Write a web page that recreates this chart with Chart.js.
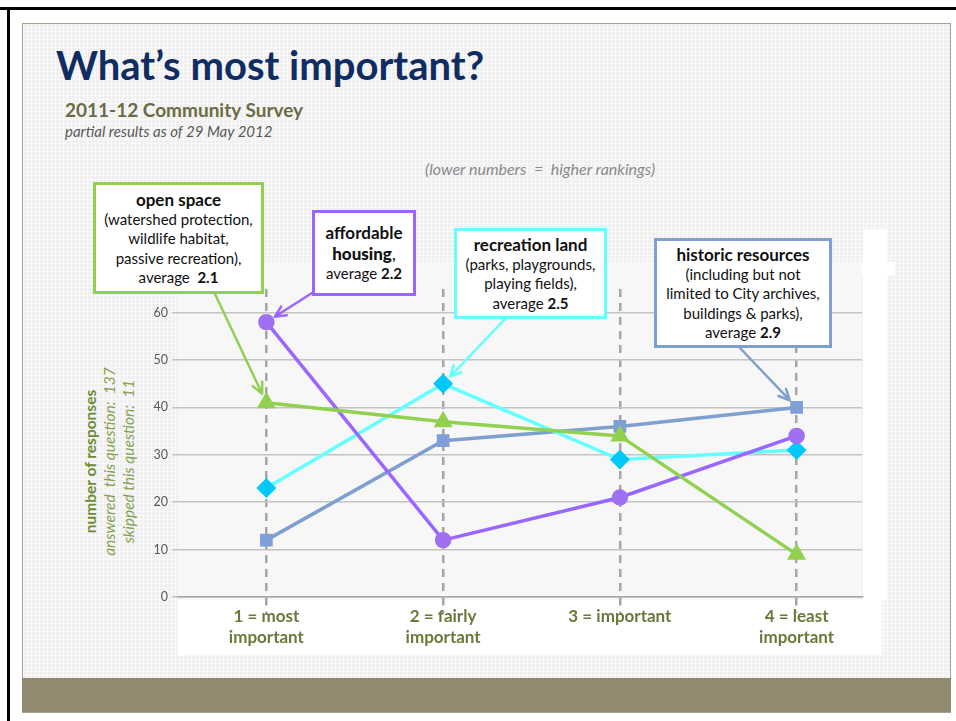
<!DOCTYPE html>
<html>
<head>
<meta charset="utf-8">
<style>
  html, body { margin: 0; padding: 0; }
  body { width: 956px; height: 721px; position: relative; overflow: hidden; background: #fff; font-family: Lato, "Open Sans", sans-serif; }
  .abs { position: absolute; }
  /* slide frame */
  #frameTop { left: 0; top: 7px; width: 956px; height: 3px; background: #000; }
  #frameLeft { left: 7px; top: 7px; width: 3px; height: 714px; background: #000; }
  #slide { left: 22px; top: 23px; width: 927px; height: 688px; border: 1px solid #aaa48c;
    background-color: #f0f0f0;
    background-image:
      repeating-linear-gradient(0deg, rgba(255,255,255,0.55) 0 1px, transparent 1px 4px),
      repeating-linear-gradient(90deg, rgba(255,255,255,0.55) 0 1px, transparent 1px 4px); }
  #footer { left: 22px; top: 678px; width: 929px; height: 34px; background: #918a6e; }
  .white { background: #fff; }
  .plotbg { background: #f7f7f7; }
  #title { left: 56px; top: 40px; font-size: 40px; font-weight: bold; color: #0f2c63; white-space: nowrap; line-height: 50px; }
  #sub { left: 65px; top: 98px; font-size: 19px; font-weight: bold; color: #6c6b44; line-height: 24px; white-space: nowrap; }
  #sub2 { left: 65px; top: 121px; font-size: 15px; font-style: italic; color: #595959; line-height: 20px; white-space: nowrap; }
  #note { left: 425px; top: 159px; font-size: 16px; font-style: italic; color: #8a8a8a; line-height: 20px; white-space: pre; }
  #ytitle { left: -1px; top: 433px; width: 220px; height: 57px; transform: rotate(-90deg); transform-origin: 110px 28.5px;
    text-align: center; font-size: 15.5px; line-height: 19px; color: #76923c; white-space: pre; }
  #ytitle b { color: #6f8a35; }
  #ytitle i { color: #86a150; }
  canvas { position: absolute; left: 0; top: 0; }
  .box { position: absolute; box-sizing: border-box; border: 3px solid; background: #fff; display: flex; flex-direction: column;
    justify-content: center; align-items: center; text-align: center; font-size: 15px; line-height: 19.5px; color: #111; white-space: nowrap; }
  .box .h { font-weight: bold; font-size: 17px; line-height: 21px; }
</style>
</head>
<body>
  <div id="frameTop" class="abs"></div>
  <div id="frameLeft" class="abs"></div>
  <div id="slide" class="abs"></div>
  <div id="footer" class="abs"></div>

  <!-- chart background pieces -->
  <div class="abs plotbg" style="left:178px;top:262px;width:684px;height:338px;"></div>
  <div class="abs white" style="left:178px;top:600px;width:704px;height:55px;"></div>
  <div class="abs white" style="left:863px;top:229px;width:24px;height:371px;"></div>
  <div class="abs white" style="left:862px;top:262px;width:33px;height:13px;"></div>

  <div id="title" class="abs">What’s most important?</div>
  <div id="sub" class="abs">2011-12 Community Survey</div>
  <div id="sub2" class="abs">partial results as of 29 May 2012</div>
  <div id="note" class="abs">(lower numbers  =  higher rankings)</div>
  <div id="ytitle" class="abs"><b>number of responses</b>
<i>answered  this question:  137</i>
<i>skipped this question:  11</i></div>

  <canvas id="myChart" width="956" height="721"></canvas>

  <div class="box" style="left:93px;top:182px;width:171px;height:112px;border-color:#92d050;">
    <span class="h">open space</span>
    <span>(watershed protection,</span>
    <span>wildlife habitat,</span>
    <span>passive recreation),</span>
    <span>average&nbsp; <b>2.1</b></span>
  </div>
  <div class="box" style="left:312px;top:210px;width:104px;height:86px;border-color:#9966ff;">
    <span class="h">affordable</span>
    <span class="h"><b>housing</b><span style="font-weight:normal">,</span></span>
    <span>average <b>2.2</b></span>
  </div>
  <div class="box" style="left:454px;top:228px;width:153px;height:91px;border-color:#66ffff;">
    <span class="h">recreation land</span>
    <span>(parks, playgrounds,</span>
    <span>playing fields),</span>
    <span>average <b>2.5</b></span>
  </div>
  <div class="box" style="left:654px;top:238px;width:178px;height:110px;border-color:#7f9fcf;">
    <span class="h">historic resources</span>
    <span>(including but not</span>
    <span>limited to City archives,</span>
    <span>buildings &amp; parks),</span>
    <span>average <b>2.9</b></span>
  </div>

  <script src="https://cdn.jsdelivr.net/npm/chart.js"></script>
  <script>
    // rank positions on the x axis and their labels
    const ranks = [1, 2, 3, 4];
    const rankLabels = [
      ['1 = most', 'important'],
      ['2 = fairly', 'important'],
      ['3 = important'],
      ['4 = least', 'important']
    ];
    // number of responses per rank
    const openSpace = [41, 37, 34, 9];
    const affordableHousing = [58, 12, 21, 34];
    const recreationLand = [23, 45, 29, 31];
    const historicResources = [12, 33, 36, 40];
    const yTicks = [0, 10, 20, 30, 40, 50, 60];

    const toPoints = vals => vals.map((v, i) => ({ x: ranks[i], y: v }));

    function series(label, vals, line, fill, style, radius) {
      return {
        label: label,
        data: toPoints(vals),
        borderColor: line,
        backgroundColor: fill,
        pointBackgroundColor: fill,
        pointBorderColor: fill,
        pointStyle: style,
        pointRadius: radius,
        borderWidth: 3.5,
        tension: 0
      };
    }

    // arrows from the call-out boxes to a point: [dataset, point index, startX, startY, colour]
    const arrows = [
      [0, 0, 215, 294, '#92d050'],
      [1, 0, 312, 293, '#9966ff'],
      [2, 1, 505, 319, '#66ffff'],
      [3, 3, 740, 348, '#7f9fcf']
    ];

    const arrowPlugin = {
      id: 'calloutArrows',
      afterDatasetsDraw(chart) {
        const ctx = chart.ctx;
        arrows.forEach(([ds, idx, sx, sy, col]) => {
          const pt = chart.getDatasetMeta(ds).data[idx];
          const dx = pt.x - sx, dy = pt.y - sy;
          const len = Math.hypot(dx, dy);
          const ex = pt.x - dx / len * 10, ey = pt.y - dy / len * 10;
          const ang = Math.atan2(dy, dx);
          ctx.save();
          ctx.strokeStyle = col;
          ctx.lineWidth = 2.5;
          ctx.lineCap = 'round';
          ctx.beginPath();
          ctx.moveTo(sx, sy);
          ctx.lineTo(ex, ey);
          for (const s of [-1, 1]) {
            ctx.moveTo(ex, ey);
            ctx.lineTo(ex - 12 * Math.cos(ang + s * 0.45), ey - 12 * Math.sin(ang + s * 0.45));
          }
          ctx.stroke();
          ctx.restore();
        });
      }
    };

    const chartCanvas = document.querySelector('#myChart');
    new Chart(chartCanvas, {
      type: 'line',
      data: {
        datasets: [
          series('open space', openSpace, '#92d050', '#92d050', 'triangle', 7.5),
          series('affordable housing', affordableHousing, '#9966ff', '#a070f0', 'circle', 6.5),
          series('recreation land', recreationLand, '#66ffff', '#00c8f8', 'rectRot', 7.5),
          series('historic resources', historicResources, '#7f9fcf', '#7ea0d6', 'rect', 6.5)
        ]
      },
      plugins: [arrowPlugin],
      options: {
        responsive: false,
        animation: false,
        layout: { padding: { left: 138, top: 289, right: 94, bottom: 64 } },
        plugins: { legend: { display: false }, tooltip: { enabled: false } },
        scales: {
          x: {
            type: 'linear',
            min: 0.5,
            max: 4.37,
            afterBuildTicks: axis => { axis.ticks = ranks.map(v => ({ value: v })); },
            afterFit: scale => { scale.height = 60; },
            grid: {
              color: '#a6a6a6',
              lineWidth: 2.5,
              drawTicks: true,
              tickLength: 16,
              tickColor: '#a6a6a6',
              tickWidth: 2.5,
              tickBorderDash: [8, 6]
            },
            border: { display: true, color: '#a6a6a6', width: 1.5, dash: [8, 6] },
            ticks: {
              autoSkip: false,
              maxRotation: 0,
              padding: -7,
              color: '#687a3a',
              font: { family: 'Lato', size: 17, weight: 'bold', lineHeight: 1.25 },
              callback: v => rankLabels[ranks.indexOf(v)] || ''
            }
          },
          y: {
            min: 0,
            max: 65,
            afterBuildTicks: axis => { axis.ticks = yTicks.map(v => ({ value: v })); },
            afterFit: scale => { scale.width = 40; },
            grid: { color: '#c4c4c4', lineWidth: 1.5, tickLength: 6 },
            border: { display: false },
            ticks: {
              padding: 4,
              color: '#595959',
              font: { family: 'Lato', size: 12.5 }
            }
          }
        }
      }
    });
  </script>
</body>
</html>
